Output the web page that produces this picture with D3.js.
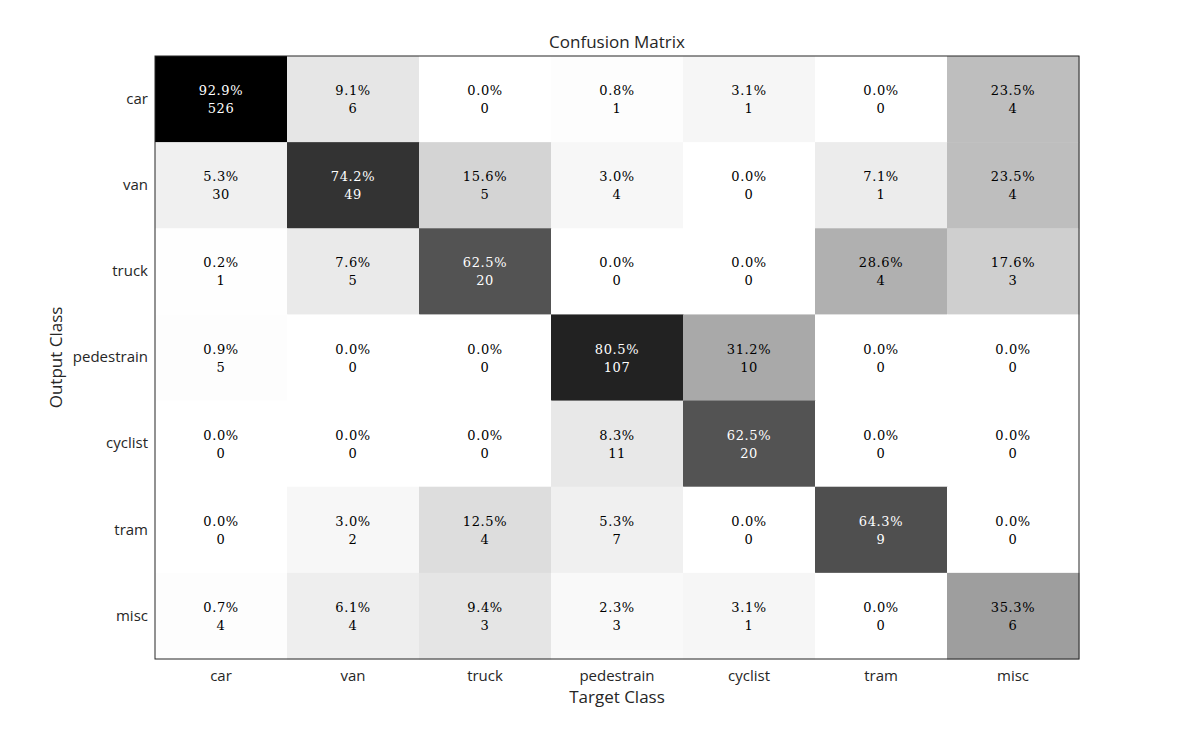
<!DOCTYPE html>
<html>
<head>
<meta charset="utf-8">
<script src="https://cdn.jsdelivr.net/npm/d3@7"></script>
<style>
  body { margin: 0; background: #fff; }
  .tick-label { font-family: "Open Sans", sans-serif; font-size: 15px; fill: #262626; }
  .axis-title { font-family: "Open Sans", sans-serif; font-size: 17px; fill: #262626; }
  .cell-text { font-family: "DejaVu Serif", serif; font-size: 13px; letter-spacing: 0.6px; }
</style>
</head>
<body>
<div id="chart"></div>
<script>
// classes (rows = output, cols = target)
const classes = ['car', 'van', 'truck', 'pedestrain', 'cyclist', 'tram', 'misc'];

// counts[row][col]
const counts = [
  [526, 6, 0, 1, 1, 0, 4],
  [30, 49, 5, 4, 0, 1, 4],
  [1, 5, 20, 0, 0, 4, 3],
  [5, 0, 0, 107, 10, 0, 0],
  [0, 0, 0, 11, 20, 0, 0],
  [0, 2, 4, 7, 0, 9, 0],
  [4, 4, 3, 3, 1, 0, 6]
];

// percent[row][col] as printed
const percents = [
  [92.9, 9.1, 0.0, 0.8, 3.1, 0.0, 23.5],
  [5.3, 74.2, 15.6, 3.0, 0.0, 7.1, 23.5],
  [0.2, 7.6, 62.5, 0.0, 0.0, 28.6, 17.6],
  [0.9, 0.0, 0.0, 80.5, 31.2, 0.0, 0.0],
  [0.0, 0.0, 0.0, 8.3, 62.5, 0.0, 0.0],
  [0.0, 3.0, 12.5, 5.3, 0.0, 64.3, 0.0],
  [0.7, 6.1, 9.4, 2.3, 3.1, 0.0, 35.3]
];

const W = 1193, H = 742;
const MARGIN_LEFT = 155, MARGIN_TOP = 56, MARGIN_RIGHT = 114, MARGIN_BOTTOM = 83;
const width = W - MARGIN_LEFT - MARGIN_RIGHT;
const height = H - MARGIN_TOP - MARGIN_BOTTOM;

const cells = [];
classes.forEach((r, i) => classes.forEach((c, j) => {
  cells.push({ row: r, col: c, n: counts[i][j], p: percents[i][j] });
}));

const x = d3.scaleBand().domain(classes).range([0, width]);
const y = d3.scaleBand().domain(classes).range([0, height]);
const maxP = d3.max(cells, d => d.p);
const shade = d3.scaleLinear().domain([0, maxP]).range(['#ffffff', '#000000']);

const svg = d3.select('#chart').append('svg')
  .attr('width', W).attr('height', H);

const g = svg.append('g').attr('transform', `translate(${MARGIN_LEFT},${MARGIN_TOP})`);

g.selectAll('rect.cell')
  .data(cells)
  .join('rect')
  .attr('class', 'cell')
  .attr('x', d => x(d.col))
  .attr('y', d => y(d.row))
  .attr('width', x.bandwidth() + 0.5)
  .attr('height', y.bandwidth() + 0.5)
  .attr('fill', d => shade(d.p));

const txt = g.selectAll('text.cell-text')
  .data(cells)
  .join('text')
  .attr('class', 'cell-text')
  .attr('text-anchor', 'middle')
  .attr('fill', d => d.p / maxP > 0.5 ? '#ffffff' : '#000000');

txt.append('tspan')
  .attr('x', d => x(d.col) + x.bandwidth() / 2)
  .attr('y', d => y(d.row) + y.bandwidth() / 2 - 4)
  .text(d => d.p.toFixed(1) + '%');

txt.append('tspan')
  .attr('x', d => x(d.col) + x.bandwidth() / 2)
  .attr('y', d => y(d.row) + y.bandwidth() / 2 + 14)
  .text(d => d.n);

// frame
g.append('rect')
  .attr('width', width).attr('height', height)
  .attr('fill', 'none').attr('stroke', '#262626').attr('stroke-width', 1);

// axes
const xAxis = g.append('g')
  .attr('transform', `translate(0,${height})`)
  .call(d3.axisBottom(x).tickSize(0).tickPadding(11));
const yAxis = g.append('g')
  .call(d3.axisLeft(y).tickSize(0).tickPadding(7));
[xAxis, yAxis].forEach(a => {
  a.select('.domain').remove();
  a.selectAll('text').attr('class', 'tick-label').attr('font-family', null).attr('font-size', null);
});
xAxis.selectAll('text').attr('dy', '0.75em');

svg.append('text')
  .attr('class', 'axis-title')
  .attr('x', MARGIN_LEFT + width / 2).attr('y', 48)
  .attr('text-anchor', 'middle')
  .text('Confusion Matrix');

svg.append('text')
  .attr('class', 'axis-title')
  .attr('x', MARGIN_LEFT + width / 2).attr('y', 703)
  .attr('text-anchor', 'middle')
  .text('Target Class');

svg.append('text')
  .attr('class', 'axis-title')
  .attr('transform', `translate(62,${MARGIN_TOP + height / 2}) rotate(-90)`)
  .attr('text-anchor', 'middle')
  .text('Output Class');
</script>
</body>
</html>
